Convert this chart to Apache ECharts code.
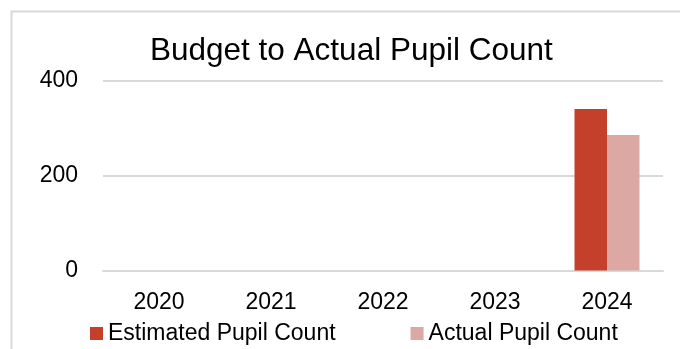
<!DOCTYPE html>
<html>
<head>
<meta charset="utf-8">
<script src="https://cdn.jsdelivr.net/npm/echarts@6/dist/echarts.min.js"></script>
<style>html,body{margin:0;padding:0;background:#fff;}#c{width:680px;height:349px;}</style>
</head>
<body>
<div id="c"></div>
<script>
const categories = ['2020', '2021', '2022', '2023', '2024'];
const estimated = [null, null, null, null, 341];
const actual = [null, null, null, null, 286];
const yTicks = [0, 200, 400];

const chart = echarts.init(document.getElementById('c'), null, {renderer: 'canvas'});
const font = '"Liberation Sans", Arial, sans-serif';
chart.setOption({
  animation: false,
  backgroundColor: '#ffffff',
  textStyle: {fontFamily: font},
  graphic: [{
    type: 'rect', left: 9, top: 9, z: -1,
    shape: {width: 700, height: 400},
    style: {fill: 'none', stroke: '#d9d9d9', lineWidth: 2}
  }],
  title: {
    text: 'Budget to Actual Pupil Count',
    left: 145, top: 30,
    textStyle: {fontFamily: font, fontSize: 31.5, fontWeight: 'normal', color: '#000'}
  },
  legend: {
    left: 85, top: 317,
    itemWidth: 13, itemHeight: 13, itemGap: 75,
    icon: 'rect',
    textStyle: {fontFamily: font, fontSize: 23, color: '#000'},
    data: ['Estimated Pupil Count', 'Actual Pupil Count']
  },
  grid: {left: 103, right: 17, top: 81, bottom: 78.5, containLabel: false},
  xAxis: {
    type: 'category', data: categories,
    axisLine: {lineStyle: {color: '#d9d9d9', width: 2}},
    axisTick: {show: false},
    axisLabel: {fontFamily: font, fontSize: 23, color: '#000', margin: 21}
  },
  yAxis: {
    type: 'value', min: yTicks[0], max: yTicks[yTicks.length - 1], interval: 200,
    axisLine: {show: false}, axisTick: {show: false},
    splitLine: {lineStyle: {color: '#d9d9d9', width: 2}},
    axisLabel: {fontFamily: font, fontSize: 23, color: '#000', margin: 25}
  },
  series: [
    {name: 'Estimated Pupil Count', type: 'bar', data: estimated, barGap: '0%', barCategoryGap: '42%',
     itemStyle: {color: '#C4402A'}},
    {name: 'Actual Pupil Count', type: 'bar', data: actual, barGap: '0%', barCategoryGap: '42%',
     itemStyle: {color: '#DBA8A4'}}
  ]
});
</script>
</body>
</html>
